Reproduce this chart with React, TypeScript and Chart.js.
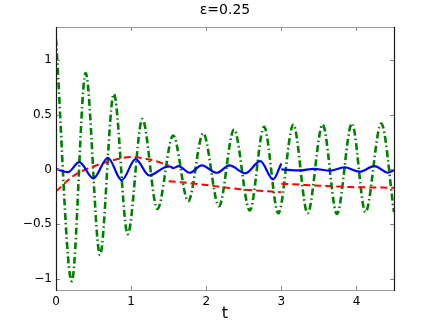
import React, { useEffect, useRef } from "react";
import { Chart, registerables } from "chart.js";

Chart.register(...registerables);

const titleText = "ε=0.25";
const xLabel = "t";
const xTicks = [0, 1, 2, 3, 4];
const yTicks = [-1, -0.5, 0, 0.5, 1];

const greenT = [0, 0.21, 0.395, 0.586, 0.77, 0.955, 1.15, 1.35, 1.56, 1.76, 1.96, 2.17, 2.37, 2.58, 2.77, 2.96, 3.16, 3.35, 3.55, 3.74, 3.94, 4.12, 4.33, 4.5];
const greenY = [1.19, -1.02, 0.88, -0.78, 0.69, -0.59, 0.46, -0.36, 0.31, -0.29, 0.33, -0.335, 0.365, -0.375, 0.39, -0.4, 0.41, -0.4, 0.41, -0.405, 0.42, -0.39, 0.42, -0.39];

const blueT1 = [0, 0.16, 0.31, 0.497, 0.69, 0.875, 1.06, 1.24, 1.45, 1.52, 1.56, 1.63, 1.78, 1.94, 2.14, 2.31, 2.52, 2.72, 2.89, 3.0];
const blueY1 = [0.006, -0.025, 0.067, -0.082, 0.107, -0.098, 0.094, -0.055, 0.02, 0.027, 0.012, 0.03, -0.03, 0.037, -0.03, 0.037, -0.035, 0.076, -0.091, 0.055];
const blueT2 = [3.0, 3.25, 3.43, 3.65, 3.84, 4.04, 4.24, 4.42, 4.5];
const blueY2 = [0.0, -0.009, 0.006, -0.012, 0.02, -0.02, 0.03, -0.03, -0.005];

const redT1 = [0, 0.23, 0.45, 0.675, 1.0, 1.25, 1.5];
const redY1 = [-0.2, -0.06, 0.015, 0.067, 0.113, 0.09, 0.037];
const redT2 = [1.5, 1.83, 2.45, 3.0];
const redY2 = [-0.107, -0.128, -0.18, -0.207];
const redT3 = [3.0, 3.91, 4.5];
const redY3 = [-0.13, -0.16, -0.167];

const pts = (t: number[], y: number[]) => t.map((x, i) => ({ x, y: y[i] }));

const BLUE = "#0000ff";
const RED = "#ff0000";
const GREEN = "#008000";
const FONT = "'DejaVu Sans', Arial, sans-serif";

const framePlugin = {
  id: "frame",
  afterDatasetsDraw(chart: any) {
    const { ctx, chartArea, scales } = chart;
    const { left, right, top, bottom } = chartArea;
    ctx.save();
    ctx.lineWidth = 1;
    ctx.strokeStyle = "#888888";
    const tl = 4;
    ctx.beginPath();
    xTicks.forEach((v) => {
      const px = Math.round(scales.x.getPixelForValue(v)) + 0.5;
      ctx.moveTo(px, bottom);
      ctx.lineTo(px, bottom - tl);
      ctx.moveTo(px, top);
      ctx.lineTo(px, top + tl);
    });
    yTicks.forEach((v) => {
      const py = Math.round(scales.y.getPixelForValue(v)) + 0.5;
      ctx.moveTo(left, py);
      ctx.lineTo(left + tl, py);
      ctx.moveTo(right, py);
      ctx.lineTo(right - tl, py);
    });
    ctx.stroke();
    ctx.strokeStyle = "#999999";
    ctx.lineWidth = 1.2;
    ctx.beginPath();
    ctx.moveTo(left, top + 0.5);
    ctx.lineTo(right, top + 0.5);
    ctx.moveTo(left, bottom + 0.5);
    ctx.lineTo(right, bottom + 0.5);
    ctx.stroke();
    ctx.strokeStyle = "#1a1a1a";
    ctx.beginPath();
    ctx.moveTo(left + 0.5, top);
    ctx.lineTo(left + 0.5, bottom + 1);
    ctx.moveTo(right + 0.5, top);
    ctx.lineTo(right + 0.5, bottom + 1);
    ctx.stroke();
    ctx.restore();
  },
};

export default function App() {
  const ref = useRef<HTMLCanvasElement | null>(null);

  useEffect(() => {
    document.body.style.margin = "0";
    const canvas = ref.current;
    if (!canvas) return;
    const base = {
      pointRadius: 0,
      fill: false,
      cubicInterpolationMode: "monotone" as const,
      borderCapStyle: "butt" as const,
    };
    const chart = new Chart(canvas, {
      type: "line",
      data: {
        datasets: [
          { ...base, data: pts(blueT1, blueY1), borderColor: BLUE, borderWidth: 2.2 },
          { ...base, data: pts(blueT2, blueY2), borderColor: BLUE, borderWidth: 2.2 },
          { ...base, data: pts(redT1, redY1), borderColor: RED, borderWidth: 2, borderDash: [7, 4] },
          { ...base, data: pts(redT2, redY2), borderColor: RED, borderWidth: 2, borderDash: [7, 4] },
          { ...base, data: pts(redT3, redY3), borderColor: RED, borderWidth: 2, borderDash: [7, 4] },
          { ...base, data: pts(greenT, greenY), borderColor: GREEN, borderWidth: 2.6, borderDash: [7, 3, 1.5, 3] },
        ],
      },
      options: {
        animation: false,
        responsive: false,
        maintainAspectRatio: false,
        devicePixelRatio: 1,
        layout: { padding: { left: 0, right: 42, top: 0, bottom: 0 } },
        plugins: {
          legend: { display: false },
          tooltip: { enabled: false },
          title: {
            display: true,
            text: titleText,
            fullSize: false,
            color: "#000",
            font: { family: FONT, size: 14, weight: "normal", lineHeight: 1.2 },
            padding: { top: 2, bottom: 8.2 },
          },
        },
        scales: {
          x: {
            type: "linear",
            min: 0,
            max: 4.5,
            grid: { display: false, drawTicks: false },
            border: { display: false },
            afterBuildTicks: (s: any) => {
              s.ticks = xTicks.map((v) => ({ value: v }));
            },
            afterFit: (s: any) => {
              s.height = 37;
            },
            ticks: {
              color: "#000",
              padding: 5,
              maxRotation: 0,
              font: { family: FONT, size: 12 },
              callback: (v: any) => String(v),
            },
            title: {
              display: true,
              text: xLabel,
              color: "#000",
              font: { family: FONT, size: 16, lineHeight: 1.2 },
              padding: { top: 0, bottom: 4 },
            },
          },
          y: {
            type: "linear",
            min: -1.1,
            max: 1.3,
            grid: { display: false, drawTicks: false },
            border: { display: false },
            afterBuildTicks: (s: any) => {
              s.ticks = yTicks.map((v) => ({ value: v }));
            },
            afterFit: (s: any) => {
              s.width = 56;
            },
            ticks: {
              color: "#000",
              padding: 4,
              font: { family: FONT, size: 12 },
              callback: (v: any) => {
                const n = Number(v);
                const s = String(Math.abs(n));
                return n < 0 ? "\u2212" + s : s;
              },
            },
          },
        },
      },
      plugins: [framePlugin],
    });
    return () => chart.destroy();
  }, []);

  return (
    <div style={{ width: 436, height: 327, background: "#fff" }}>
      <canvas ref={ref} width={436} height={327} style={{ display: "block", width: 436, height: 327 }} />
    </div>
  );
}
